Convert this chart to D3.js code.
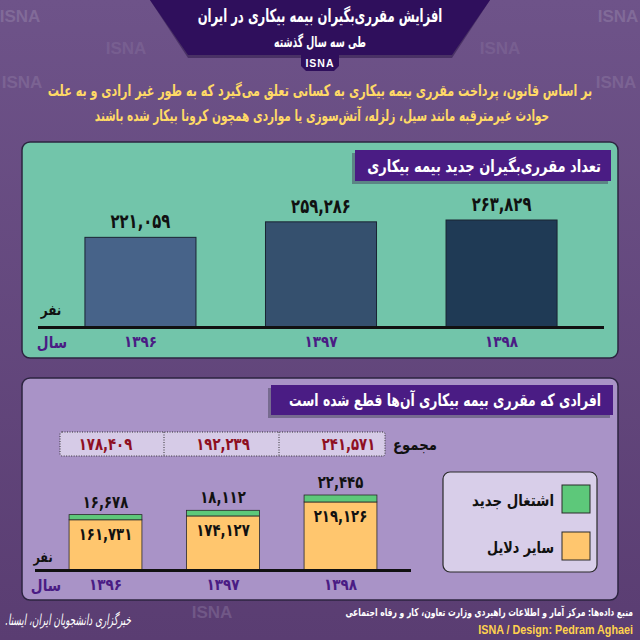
<!DOCTYPE html>
<html><head><meta charset="utf-8">
<script src="https://cdn.jsdelivr.net/npm/d3@7"></script>
<style>
html,body{margin:0;padding:0;background:#664a82;}
svg{display:block;}
text{font-family:"DejaVu Sans",sans-serif;font-weight:bold;}
</style></head>
<body>
<script>
// ---- data ----
const years = ["۱۳۹۶", "۱۳۹۷", "۱۳۹۸"];
const newRecipients = [221059, 259286, 263829];
const cutNewJob = [16678, 18112, 22445];
const cutOther = [161731, 174127, 219126];
const cutTotal = [178409, 192239, 241571];
const legendLabels = ["اشتغال جدید", "سایر دلایل"];
const titleMain = "افزایش مقرری‌بگیران بیمه بیکاری در ایران";
const titleSub = "طی سه سال گذشته";
const intro = ["بر اساس قانون، پرداخت مقرری بیمه بیکاری به کسانی تعلق می‌گیرد که به طور غیر ارادی و به علت",
               "حوادث غیرمترقبه مانند سیل، زلزله، آتش‌سوزی یا مواردی همچون کرونا بیکار شده باشند"];
const panel1Title = "تعداد مقرری‌بگیران جدید بیمه بیکاری";
const panel2Title = "افرادی که مقرری بیمه بیکاری آن‌ها قطع شده است";
const sourceText = "منبع داده‌ها: مرکز آمار و اطلاعات راهبردی وزارت تعاون، کار و رفاه اجتماعی";
const creditText = "ISNA / Design: Pedram Aghaei";
const agencyText = "خبرگزاری دانشجویان ایران، ایسنا.";

const fa = s => String(s).replace(/[0-9]/g, d => "۰۱۲۳۴۵۶۷۸۹"[+d]);
const fmt = v => fa(d3.format(",")(v));

// horizontal condensing about the anchor point (reference uses a narrow Persian face)
function condense(sel, kOrW, isWidth) {
  sel.each(function (d, i) {
    const t = d3.select(this);
    const x = +t.attr("x") || 0, y = +t.attr("y") || 0;
    const w = this.getComputedTextLength();
    const spec = typeof kOrW === "function" ? kOrW(d, i) : kOrW;
    const k = isWidth ? spec / w : spec;
    t.attr("x", 0).attr("y", 0).attr("transform", `translate(${x},${y}) scale(${k},1)`);
  });
}
const squeeze = (sel, f) => condense(sel, f, false);
const fitTo = (sel, w) => condense(sel, w, true);

const W = 640, H = 640;
const svg = d3.select("body").append("svg").attr("width", W).attr("height", H);
const defs = svg.append("defs");
const bg = defs.append("linearGradient").attr("id", "bg").attr("x1", 0).attr("y1", 0).attr("x2", 0).attr("y2", 1);
bg.append("stop").attr("offset", 0).attr("stop-color", "#6e5389");
bg.append("stop").attr("offset", 1).attr("stop-color", "#5a3d72");
svg.append("rect").attr("width", W).attr("height", H).attr("fill", "url(#bg)");

// watermarks
const wm = [[20,22,0.45],[618,22,0.45],[126,54,0.25],[500,54,0.25],[22,88,0.35],[616,88,0.35],[212,618,0.35]];
svg.append("g").selectAll("text").data(wm).join("text")
  .attr("x", d => d[0]).attr("y", d => d[1]).attr("text-anchor", "middle")
  .attr("font-size", 17).attr("fill", "#9a88ad").attr("opacity", d => d[2])
  .style("font-family", "Liberation Sans, Arial").text("ISNA");

// title banner
svg.append("path").attr("d", "M150,0 L490,0 L452,58 L188,58 Z").attr("fill", "#1e0a3c").attr("opacity", 0.45);
svg.append("path").attr("d", "M150,0 L490,0 L452,55 L188,55 Z").attr("fill", "#2f0f5c");
svg.append("path").attr("d", "M301,53 L339,53 L339,66 L334,71 L306,71 L301,66 Z").attr("fill", "#2f0f5c");
svg.append("text").attr("x", 320).attr("y", 22).attr("text-anchor", "middle").attr("fill", "#fff")
  .attr("font-size", 18).attr("direction", "rtl").text(titleMain).call(fitTo, 245);
svg.append("text").attr("x", 320).attr("y", 47).attr("text-anchor", "middle").attr("fill", "#fff")
  .attr("font-size", 15).attr("direction", "rtl").text(titleSub).call(fitTo, 92);
svg.append("text").attr("x", 320).attr("y", 67).attr("text-anchor", "middle").attr("fill", "#fff")
  .attr("font-size", 10.5).attr("letter-spacing", 1).style("font-family", "Liberation Sans, Arial").text("ISNA");

// intro
const introW = [545, 455];
svg.append("g").selectAll("text").data(intro).join("text")
  .attr("x", (d, i) => i ? 322 : 320).attr("y", (d, i) => 96 + i * 25).attr("text-anchor", "middle")
  .attr("direction", "rtl").attr("fill", "#ffd966").attr("font-size", 16).text(d => d)
  .call(fitTo, (d, i) => introW[i]);

// ---------- panel 1 ----------
svg.append("rect").attr("x", 22).attr("y", 142).attr("width", 596).attr("height", 216).attr("rx", 8)
  .attr("fill", "#72c5aa").attr("stroke", "#2c2440").attr("stroke-width", 1.5);
svg.append("rect").attr("x", 352).attr("y", 153).attr("width", 256).attr("height", 31).attr("fill", "#4d5a6d").attr("opacity", 0.6);
svg.append("rect").attr("x", 355).attr("y", 150).attr("width", 256).attr("height", 31).attr("fill", "#4a1c84");
svg.append("text").attr("x", 601).attr("y", 172).attr("text-anchor", "start").attr("direction", "rtl")
  .attr("fill", "#fff").attr("font-size", 17).text(panel1Title).call(fitTo, 234);

const x1 = d3.scaleBand().domain(years).range([38, 604]).paddingInner(0.385).paddingOuter(0.26);
const y1 = d3.scaleLinear().domain([0, d3.max(newRecipients)]).range([327, 220]);
const col1 = ["#476389", "#35506e", "#1f3a55"];
const g1 = svg.append("g");
g1.selectAll("rect").data(newRecipients).join("rect")
  .attr("x", (d, i) => x1(years[i])).attr("width", x1.bandwidth())
  .attr("y", d => y1(d)).attr("height", d => y1(0) - y1(d))
  .attr("fill", (d, i) => col1[i]).attr("stroke", "#1a2433").attr("stroke-width", 1);
g1.selectAll("text.v").data(newRecipients).join("text").attr("class", "v")
  .attr("x", (d, i) => x1(years[i]) + x1.bandwidth() / 2).attr("y", d => y1(d) - 9)
  .attr("text-anchor", "middle").attr("font-size", 20).attr("fill", "#111").text(d => fmt(d))
  .call(squeeze, 0.74);
g1.append("line").attr("x1", 38).attr("x2", 604).attr("y1", 327.5).attr("y2", 327.5).attr("stroke", "#111").attr("stroke-width", 3);
const ax1 = g1.append("g").attr("transform", "translate(0,330)").call(d3.axisBottom(x1).tickSize(0).tickPadding(6));
ax1.select(".domain").remove();
ax1.selectAll("text").attr("font-size", 16).attr("fill", "#4a1c84").style("font-family", "DejaVu Sans").style("font-weight", "bold")
  .call(squeeze, 0.85);
g1.append("text").attr("x", 52).attr("y", 348).attr("text-anchor", "middle").attr("fill", "#4a1c84").attr("font-size", 16).text("سال").call(squeeze, 0.85);
g1.append("text").attr("x", 51).attr("y", 315).attr("text-anchor", "middle").attr("fill", "#111").attr("font-size", 15).text("نفر").call(squeeze, 0.8);

// ---------- panel 2 ----------
svg.append("rect").attr("x", 22).attr("y", 378).attr("width", 596).attr("height", 222).attr("rx", 8)
  .attr("fill", "#a993c7").attr("stroke", "#2c2440").attr("stroke-width", 1.5);
svg.append("rect").attr("x", 268).attr("y", 388).attr("width", 342).attr("height", 30).attr("fill", "#56506a").attr("opacity", 0.6);
svg.append("rect").attr("x", 271).attr("y", 385).attr("width", 342).attr("height", 30).attr("fill", "#4a1c84");
svg.append("text").attr("x", 601).attr("y", 406).attr("text-anchor", "start").attr("direction", "rtl")
  .attr("fill", "#fff").attr("font-size", 17).text(panel2Title).call(fitTo, 312);

const x2 = d3.scaleBand().domain(years).range([35, 411]).paddingInner(0.38).paddingOuter(0.29);
const y2 = d3.scaleLinear().domain([0, d3.max(cutTotal)]).range([570, 495]);
const g2 = svg.append("g");
// totals box
g2.append("rect").attr("x", 60).attr("y", 432).attr("width", 325).attr("height", 24).attr("rx", 2)
  .attr("fill", "#d6cbe7").attr("stroke", "#333").attr("stroke-dasharray", "1,1.5");
g2.selectAll("line.sep").data([164, 279]).join("line").attr("class", "sep")
  .attr("x1", d => d).attr("x2", d => d).attr("y1", 432).attr("y2", 456).attr("stroke", "#333").attr("stroke-dasharray", "1,1.5");
g2.selectAll("text.tot").data(cutTotal).join("text").attr("class", "tot")
  .attr("x", (d, i) => x2(years[i]) + x2.bandwidth() / 2 + (i === 2 ? 8 : 0)).attr("y", 450).attr("text-anchor", "middle")
  .attr("fill", "#8e0f22").attr("font-size", 17).text(d => fmt(d)).call(squeeze, 0.78);
g2.append("text").attr("x", 437).attr("y", 450).attr("text-anchor", "start").attr("direction", "rtl")
  .attr("fill", "#111").attr("font-size", 16).text("مجموع").call(fitTo, 44);

const stackData = years.map((y, i) => ({year: y, other: cutOther[i], job: cutNewJob[i]}));
const series = d3.stack().keys(["other", "job"])(stackData);
const colors2 = {other: "#ffc66e", job: "#5dc87a"};
g2.selectAll("g.s").data(series).join("g").attr("class", "s").attr("fill", d => colors2[d.key])
  .selectAll("rect").data(d => d).join("rect")
  .attr("x", d => x2(d.data.year)).attr("width", x2.bandwidth())
  .attr("y", d => y2(d[1])).attr("height", d => y2(d[0]) - y2(d[1]))
  .attr("stroke", "#2a2a2a").attr("stroke-width", 0.8);
g2.selectAll("text.job").data(stackData).join("text").attr("class", "job")
  .attr("x", d => x2(d.year) + x2.bandwidth() / 2).attr("y", d => y2(d.other + d.job) - 7)
  .attr("text-anchor", "middle").attr("font-size", 17).attr("fill", "#111").text(d => fmt(d.job)).call(squeeze, 0.78);
g2.selectAll("text.oth").data(stackData).join("text").attr("class", "oth")
  .attr("x", d => x2(d.year) + x2.bandwidth() / 2).attr("y", d => y2(d.other) + 20)
  .attr("text-anchor", "middle").attr("font-size", 17).attr("fill", "#111").text(d => fmt(d.other)).call(squeeze, 0.78);
g2.append("line").attr("x1", 35).attr("x2", 411).attr("y1", 570.5).attr("y2", 570.5).attr("stroke", "#111").attr("stroke-width", 3);
const ax2 = g2.append("g").attr("transform", "translate(0,572)").call(d3.axisBottom(x2).tickSize(0).tickPadding(7));
ax2.select(".domain").remove();
ax2.selectAll("text").attr("font-size", 16).attr("fill", "#4a1c84").style("font-family", "DejaVu Sans").style("font-weight", "bold")
  .call(squeeze, 0.85);
g2.append("text").attr("x", 46).attr("y", 591).attr("text-anchor", "middle").attr("fill", "#4a1c84").attr("font-size", 16).text("سال").call(squeeze, 0.85);
g2.append("text").attr("x", 43).attr("y", 562).attr("text-anchor", "middle").attr("fill", "#111").attr("font-size", 14).text("نفر").call(squeeze, 0.8);

// legend
const lg = svg.append("g");
lg.append("rect").attr("x", 443).attr("y", 472).attr("width", 154).attr("height", 100).attr("rx", 7)
  .attr("fill", "#d8cee9").attr("stroke", "#2a2a2a").attr("stroke-width", 1.2);
const legKeys = ["job", "other"];
lg.selectAll("rect.sw").data(legKeys).join("rect").attr("class", "sw")
  .attr("x", 562).attr("y", (d, i) => 485 + i * 47).attr("width", 28).attr("height", 28)
  .attr("fill", d => colors2[d]).attr("stroke", "#2a2a2a").attr("stroke-width", 1);
const legW = [82, 67];
lg.selectAll("text").data(legendLabels).join("text")
  .attr("x", 554).attr("y", (d, i) => 506 + i * 47).attr("text-anchor", "start").attr("direction", "rtl")
  .attr("font-size", 16).attr("fill", "#111").text(d => d)
  .call(fitTo, (d, i) => legW[i]);

// footer
svg.append("text").attr("x", 633).attr("y", 616).attr("text-anchor", "start").attr("direction", "rtl")
  .attr("fill", "#fff").attr("font-size", 11).text(sourceText).call(fitTo, 288);
svg.append("text").attr("x", 633).attr("y", 634).attr("text-anchor", "end")
  .attr("fill", "#ffd24d").attr("font-size", 12).style("font-family", "Liberation Sans, Arial").text(creditText)
  .call(fitTo, 155);
svg.append("text").attr("x", 131).attr("y", 625).attr("text-anchor", "start").attr("direction", "rtl")
  .attr("fill", "#fff").attr("font-size", 15).attr("font-style", "italic").style("font-weight", "normal")
  .text(agencyText).call(fitTo, 126);
</script>
</body></html>
